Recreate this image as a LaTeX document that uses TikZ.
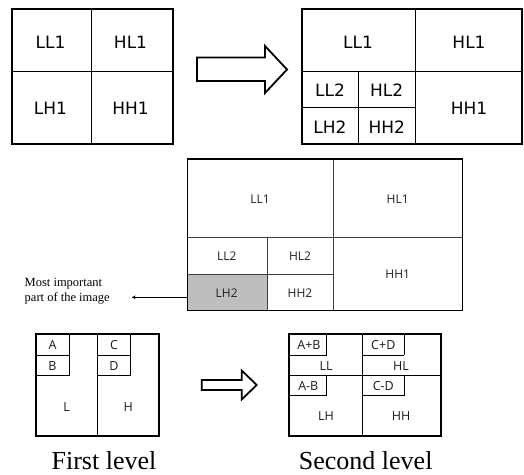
\documentclass[tikz,border=0pt]{standalone}
\usepackage{fontspec}
\usetikzlibrary{arrows.meta}
\setmainfont{Liberation Serif}
\newfontfamily\vfont{DejaVu Sans}
\newfontfamily\sfont{Open Sans}
\definecolor{cellgray}{RGB}{190,190,190}
\definecolor{linegray}{RGB}{60,60,60}
\begin{document}
\begin{tikzpicture}[x=1pt,y=-1pt,
  outer/.style={draw=black,line width=2pt},
  inner/.style={draw=black,line width=1pt},
  midouter/.style={draw=black,line width=1.5pt},
  midinner/.style={draw=linegray,line width=0.8pt},
  bigarrow/.style={draw=black,line width=1.8pt,fill=white,line join=miter},
  toplbl/.style={font=\vfont\fontsize{17}{17}\selectfont,inner sep=0pt},
  midlbl/.style={font=\sfont\fontsize{12}{12}\selectfont,inner sep=0pt,text=black!88},
  botlbl/.style={font=\sfont\fontsize{12.5}{12.5}\selectfont,inner sep=0pt,text=black!90},
  notelbl/.style={font=\fontsize{12.5}{15}\selectfont,inner sep=0pt,align=left,anchor=west},
  levellbl/.style={font=\fontsize{26}{26}\selectfont,inner sep=0pt,anchor=base}]
\useasboundingbox (0,0) rectangle (524,474);

% ---------- Box 1 ----------
\draw[inner] (91.7,9.3) -- (91.7,144) (11.7,71.7) -- (173,71.7);
\draw[outer] (11.7,9.3) rectangle (173,144);
\node[toplbl] (a-ll1) at (50.5,42.5) {LL1};
\node[toplbl] (a-hl1) at (130.5,42.5) {HL1};
\node[toplbl] (a-lh1) at (50.5,108.5) {LH1};
\node[toplbl] (a-hh1) at (130.5,108.5) {HH1};

% ---------- Arrow 1 ----------
\draw[bigarrow] (197,57.5) -- (265,57.5) -- (265,46) -- (287,69.5) -- (265,93) -- (265,81) -- (197,81) -- cycle;

% ---------- Box 2 ----------
\draw[inner] (415,9.3) -- (415,144) (301.7,71.7) -- (522,71.7)
  (358.3,71.7) -- (358.3,144) (301.7,107.7) -- (415,107.7);
\draw[outer] (301.7,9.3) rectangle (522,144);
\node[toplbl] (b-ll1) at (358,42.5) {LL1};
\node[toplbl] (b-hl1) at (469,42.5) {HL1};
\node[toplbl] (b-ll2) at (330,90.5) {LL2};
\node[toplbl] (b-hl2) at (386.7,90.5) {HL2};
\node[toplbl] (b-lh2) at (330,127) {LH2};
\node[toplbl] (b-hh2) at (386.7,127) {HH2};
\node[toplbl] (b-hh1) at (469,108.5) {HH1};

% ---------- Middle box ----------
\fill[cellgray] (187.3,274) rectangle (267.3,310.7);
\draw[midinner] (333.7,159) -- (333.7,310.7) (187.3,237.3) -- (462.3,237.3)
  (267.3,237.3) -- (267.3,310.7) (187.3,274) -- (333.7,274);
\draw[midouter] (187.3,159) rectangle (462.3,310.7);
\node[midlbl] (m-ll1) at (260,199) {LL1};
\node[midlbl] (m-hl1) at (397.7,199) {HL1};
\node[midlbl] (m-ll2) at (226.7,256.5) {LL2};
\node[midlbl] (m-hl2) at (300,256.5) {HL2};
\node[midlbl] (m-lh2) at (226.7,293) {LH2};
\node[midlbl] (m-hh2) at (300,293) {HH2};
\node[midlbl] (m-hh1) at (397.7,274) {HH1};
\coordinate (m-left) at (187.3,297.3);

% ---------- Note ----------
\node[notelbl] (note) at (24.5,291) {Most important\\part of the image};
\coordinate (tip) at (131.7,297.3);
\draw[line width=0.6pt,-{Stealth[length=4pt,width=3.5pt]}] (m-left) -- (tip);

% ---------- Bottom left (First level) ----------
\draw[inner] (97.7,334) -- (97.7,435.7)
  (36,355) -- (69.3,355) (36,375.7) -- (69.3,375.7) (69.3,334) -- (69.3,375.7)
  (97.7,355) -- (130.7,355) (97.7,375.7) -- (130.7,375.7) (130.7,334) -- (130.7,375.7);
\draw[outer] (36,334) rectangle (159.3,435.7);
\node[botlbl] (c-a) at (52.5,345) {A};
\node[botlbl] (c-b) at (52.5,366) {B};
\node[botlbl] (c-c) at (114,345) {C};
\node[botlbl] (c-d) at (114,366) {D};
\node[botlbl] (c-l) at (66.7,407) {L};
\node[botlbl] (c-h) at (128.3,407) {H};

% ---------- Arrow 2 ----------
\draw[bigarrow] (201.7,380) -- (241.7,380) -- (241.7,370.5) -- (256.7,385) -- (241.7,399.5) -- (241.7,390) -- (201.7,390) -- cycle;

% ---------- Bottom right (Second level) ----------
\draw[inner] (362.7,334) -- (362.7,435.7) (289.3,375) -- (441,375)
  (289.3,355) -- (326.7,355) (326.7,334) -- (326.7,355)
  (362.7,355) -- (404.3,355) (404.3,334) -- (404.3,355)
  (289.3,395.7) -- (326.7,395.7) (326.7,375) -- (326.7,395.7)
  (362.7,395.7) -- (404.3,395.7) (404.3,375) -- (404.3,395.7);
\draw[outer] (289.3,334) rectangle (441,435.7);
\node[botlbl] (d-apb) at (309,345) {A+B};
\node[botlbl] (d-cpd) at (383.3,345) {C+D};
\node[botlbl] (d-ll) at (326,366) {LL};
\node[botlbl] (d-hl) at (401,366) {HL};
\node[botlbl] (d-amb) at (308.3,386) {A-B};
\node[botlbl] (d-cmd) at (383.3,386) {C-D};
\node[botlbl] (d-lh) at (326,416) {LH};
\node[botlbl] (d-hh) at (401,416) {HH};

% ---------- Captions ----------
\node[levellbl] (first) at (104,469.3) {First level};
\node[levellbl] (second) at (365.7,469.3) {Second level};
\end{tikzpicture}
\end{document}
